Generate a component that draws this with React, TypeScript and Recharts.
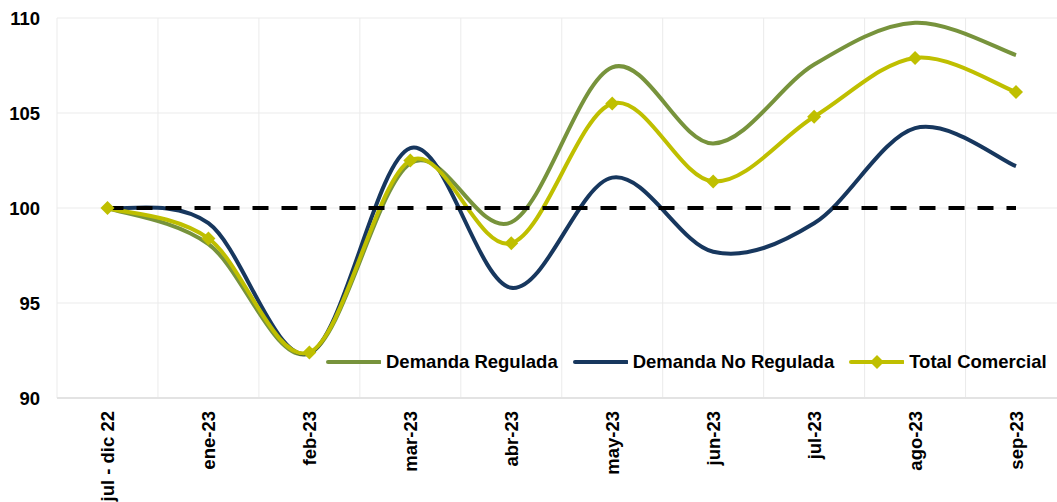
import { LineChart, Line, XAxis, YAxis, CartesianGrid } from 'recharts';

const months = ['jul - dic 22', 'ene-23', 'feb-23', 'mar-23', 'abr-23', 'may-23', 'jun-23', 'jul-23', 'ago-23', 'sep-23'];
const regulada = [100, 98.1, 92.35, 102.35, 99.25, 107.4, 103.4, 107.55, 109.75, 108.05];
const noRegulada = [100, 99.2, 92.35, 103.15, 95.8, 101.6, 97.7, 99.2, 104.2, 102.2];
const totalComercial = [100, 98.4, 92.4, 102.5, 98.15, 105.5, 101.4, 104.8, 107.9, 106.1];
const base = [100, 100, 100, 100, 100, 100, 100, 100, 100, 100];
const yTicks = [90, 95, 100, 105, 110];

const data = months.map((m, i) => ({
  month: m,
  regulada: regulada[i],
  noRegulada: noRegulada[i],
  total: totalComercial[i],
  base: base[i],
}));

const FONT = '"Liberation Sans", Arial, sans-serif';
const GREEN = '#77933C';
const NAVY = '#17375E';
const YELLOW = '#BFBF00';

// excel-style smoothed line (cardinal spline, passes through the points)
function excelCurve(context: any) {
  let pts: [number, number][] = [];
  return {
    areaStart() {},
    areaEnd() {},
    lineStart() {
      pts = [];
    },
    lineEnd() {
      const n = pts.length;
      if (!n) return;
      context.moveTo(pts[0][0], pts[0][1]);
      for (let i = 0; i < n - 1; i++) {
        const p0 = pts[Math.max(i - 1, 0)];
        const p1 = pts[i];
        const p2 = pts[i + 1];
        const p3 = pts[Math.min(i + 2, n - 1)];
        context.bezierCurveTo(
          p1[0] + (p2[0] - p0[0]) / 6,
          p1[1] + (p2[1] - p0[1]) / 6,
          p2[0] - (p3[0] - p1[0]) / 6,
          p2[1] - (p3[1] - p1[1]) / 6,
          p2[0],
          p2[1]
        );
      }
    },
    point(x: number, y: number) {
      pts.push([x, y]);
    },
  };
}

const Diamond = (props: any) => {
  const { cx, cy, index } = props;
  if (cx == null || cy == null) return <g key={index} />;
  const r = 7;
  return <path key={index} d={`M${cx},${cy - r}L${cx + r},${cy}L${cx},${cy + r}L${cx - r},${cy}Z`} fill={YELLOW} />;
};

const XTick = (props: any) => {
  const { x, y, payload } = props;
  return (
    <g transform={`translate(${x},${y + 13})`}>
      <text transform="rotate(-90)" textAnchor="end" dy="0.36em" fontSize={18.5} fontWeight="bold" fill="#000" fontFamily={FONT}>
        {payload.value}
      </text>
    </g>
  );
};

const legendItems = [
  { label: 'Demanda Regulada', color: GREEN, marker: false },
  { label: 'Demanda No Regulada', color: NAVY, marker: false },
  { label: 'Total Comercial', color: YELLOW, marker: true },
];

const ChartLegend = () => (
  <div style={{ position: 'absolute', left: 326, top: 351, display: 'flex', alignItems: 'center', fontFamily: FONT, fontSize: 18.5, fontWeight: 'bold', color: '#000', whiteSpace: 'nowrap' }}>
    {legendItems.map((it, i) => (
      <div key={it.label} style={{ display: 'flex', alignItems: 'center', marginLeft: i ? 15 : 0 }}>
        <svg width={55} height={16} style={{ marginRight: 5 }}>
          <line x1={2} y1={8} x2={54} y2={8} stroke={it.color} strokeWidth={4} strokeLinecap="round" />
          {it.marker && <path d="M28,1L35,8L28,15L21,8Z" fill={it.color} />}
        </svg>
        <span>{it.label}</span>
      </div>
    ))}
  </div>
);

export default function App() {
  return (
    <div style={{ position: 'absolute', left: 0, top: 0, width: 1057, height: 502, overflow: 'hidden', background: '#fff' }}>
      <LineChart width={1080} height={502} data={data} margin={{ top: 18, right: 13.5, left: 0, bottom: 0 }}>
        <CartesianGrid
          stroke="#ebebeb"
          strokeWidth={1}
          verticalCoordinatesGenerator={({ offset }: any) =>
            months.map((_, i) => offset.left + (i * offset.width) / months.length).concat(offset.left + offset.width)
          }
        />
        <XAxis
          dataKey="month"
          interval={0}
          padding={{ left: 50.5, right: 50.5 }}
          height={104}
          tickSize={0}
          tickMargin={0}
          tick={<XTick />}
          axisLine={{ stroke: '#e3e3e3', strokeWidth: 2 }}
          tickLine={false}
        />
        <YAxis
          domain={[90, 110]}
          ticks={yTicks}
          width={57}
          tickSize={0}
          tickMargin={17}
          axisLine={false}
          tickLine={false}
          tick={{ fontSize: 18.5, fontWeight: 'bold', fill: '#000', fontFamily: FONT }}
        />
        <Line dataKey="regulada" name="Demanda Regulada" stroke={GREEN} strokeWidth={4} type={excelCurve as any} dot={false} isAnimationActive={false} />
        <Line dataKey="noRegulada" name="Demanda No Regulada" stroke={NAVY} strokeWidth={4} type={excelCurve as any} dot={false} isAnimationActive={false} />
        <Line dataKey="total" name="Total Comercial" stroke={YELLOW} strokeWidth={4} type={excelCurve as any} dot={<Diamond />} isAnimationActive={false} />
        <Line dataKey="base" stroke="#000" strokeWidth={4} strokeDasharray="16 13" type="linear" dot={false} legendType="none" isAnimationActive={false} />
      </LineChart>
      <ChartLegend />
    </div>
  );
}
